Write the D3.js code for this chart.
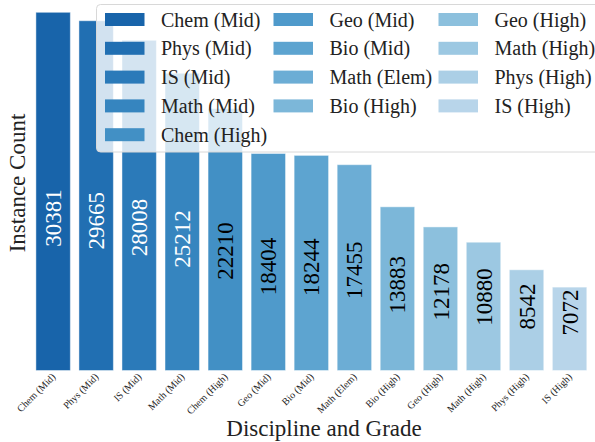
<!DOCTYPE html>
<html>
<head>
<meta charset="utf-8">
<script src="https://cdn.jsdelivr.net/npm/d3@7"></script>
<style>
  body { margin: 0; background: #fff; }
</style>
</head>
<body>
<svg id="chart"></svg>
<script>
// data
var categories = ['Chem (Mid)', 'Phys (Mid)', 'IS (Mid)', 'Math (Mid)', 'Chem (High)',
  'Geo (Mid)', 'Bio (Mid)', 'Math (Elem)', 'Bio (High)', 'Geo (High)',
  'Math (High)', 'Phys (High)', 'IS (High)'];
var counts = [30381, 29665, 28008, 25212, 22210, 18404, 18244, 17455, 13883, 12178, 10880, 8542, 7072];

var width = 595, height = 442,
  serif = 'Liberation Serif';

var svg = d3.select('#chart')
  .attr('width', width)
  .attr('height', height);

var x = d3.scaleBand()
  .domain(categories)
  .range([31.6, 591.1])
  .paddingInner(0.2)
  .paddingOuter(0.1);

var y = d3.scaleLinear()
  .domain([0, d3.max(counts)])
  .range([370.5, 12.3]);

// blues, dark to light
var color = d3.scaleLinear()
  .domain([0, categories.length - 1])
  .range([0.8, 0.29]);

var data = categories.map(function(c, i) { return {cat: c, value: counts[i], i: i}; });

// bars
svg.append('g').selectAll('rect')
  .data(data)
  .enter().append('rect')
  .attr('x', function(d) { return x(d.cat); })
  .attr('y', function(d) { return y(d.value); })
  .attr('width', x.bandwidth())
  .attr('height', function(d) { return y(0) - y(d.value); })
  .attr('fill', function(d) { return d3.interpolateBlues(color(d.i)); })
  .attr('stroke', 'rgba(255,255,255,0.45)')
  .attr('stroke-width', 1);

// value labels, rotated
svg.append('g').selectAll('text')
  .data(data)
  .enter().append('text')
  .attr('transform', function(d) {
    var cx = x(d.cat) + x.bandwidth() / 2;
    var cy = y(d.value * 0.344 + 2490);
    return 'translate(' + cx + ',' + cy + ') rotate(-90)';
  })
  .attr('text-anchor', 'middle')
  .attr('dy', '0.35em')
  .style('font-family', serif)
  .attr('font-size', '23px')
  .attr('fill', function(d) { return d.i < 4 ? '#fff' : '#000'; })
  .text(function(d) { return d.value; });

// x axis tick labels (no line, no ticks)
var xAxis = svg.append('g')
  .attr('transform', 'translate(0,' + y(0) + ')')
  .call(d3.axisBottom(x).tickSize(0).tickPadding(0));
xAxis.select('.domain').remove();
xAxis.selectAll('text')
  .style('font-family', serif)
  .attr('font-size', '10px')
  .attr('fill', '#222')
  .attr('text-anchor', 'end')
  .attr('dy', null)
  .attr('y', 0)
  .attr('transform', 'translate(3,7) rotate(-45)');

// axis titles
svg.append('text')
  .attr('x', 324)
  .attr('y', 436)
  .attr('text-anchor', 'middle')
  .style('font-family', serif)
  .attr('font-size', '23px')
  .attr('fill', '#222')
  .text('Discipline and Grade');

svg.append('text')
  .attr('transform', 'translate(25,183) rotate(-90)')
  .attr('text-anchor', 'middle')
  .style('font-family', serif)
  .attr('font-size', '23px')
  .attr('fill', '#222')
  .text('Instance Count');

// legend
var legend = svg.append('g');
legend.append('rect')
  .attr('x', 96.5)
  .attr('y', 4.5)
  .attr('width', 510)
  .attr('height', 147.5)
  .attr('rx', 4)
  .attr('fill', 'rgba(255,255,255,0.8)')
  .attr('stroke', '#d8d8d8')
  .attr('stroke-width', 1);

var colX = [105, 273.5, 438.5];
var perCol = [5, 4, 4];
var k = 0;
perCol.forEach(function(n, c) {
  for (var r = 0; r < n; r++, k++) {
    var row = legend.append('g')
      .attr('transform', 'translate(' + colX[c] + ',' + (19.5 + r * 28.8) + ')');
    row.append('rect')
      .attr('x', 0)
      .attr('y', -6.5)
      .attr('width', 39.5)
      .attr('height', 13)
      .attr('fill', d3.interpolateBlues(color(k)));
    row.append('text')
      .attr('x', 56)
      .attr('dy', '0.35em')
      .style('font-family', serif)
      .attr('font-size', '20px')
      .attr('fill', '#222')
      .text(categories[k]);
  }
});
</script>
</body>
</html>
